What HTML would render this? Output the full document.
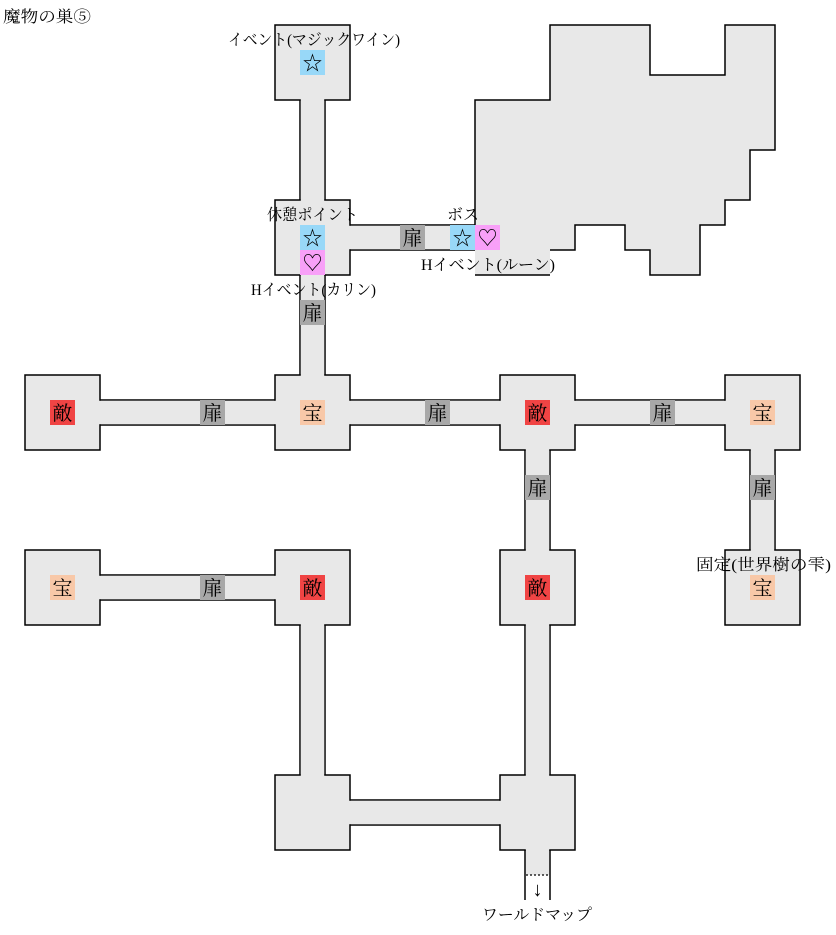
<!DOCTYPE html>
<html><head><meta charset="utf-8"><style>
html,body{margin:0;padding:0;background:#fff;}
svg{display:block;}
text{font-family:"Liberation Serif","Noto Serif CJK SC",serif;fill:#000;}
.ic{font-size:20px;}
.lb{font-size:16px;}
</style></head><body>
<svg width="836" height="935" viewBox="0 0 836 935" xmlns="http://www.w3.org/2000/svg">
<g fill="#e8e8e8" stroke="#000" stroke-width="1.5">
<rect x="300" y="100" width="25" height="100"/>
<rect x="350" y="225" width="125" height="25"/>
<rect x="300" y="275" width="25" height="100"/>
<rect x="100" y="400" width="175" height="25"/>
<rect x="350" y="400" width="150" height="25"/>
<rect x="575" y="400" width="150" height="25"/>
<rect x="525" y="450" width="25" height="100"/>
<rect x="750" y="450" width="25" height="100"/>
<rect x="100" y="575" width="175" height="25"/>
<rect x="300" y="625" width="25" height="150"/>
<rect x="525" y="625" width="25" height="150"/>
<rect x="350" y="800" width="150" height="25"/>
<rect x="275" y="25" width="75" height="75"/>
<rect x="275" y="200" width="75" height="75"/>
<rect x="25" y="375" width="75" height="75"/>
<rect x="275" y="375" width="75" height="75"/>
<rect x="500" y="375" width="75" height="75"/>
<rect x="725" y="375" width="75" height="75"/>
<rect x="25" y="550" width="75" height="75"/>
<rect x="275" y="550" width="75" height="75"/>
<rect x="500" y="550" width="75" height="75"/>
<rect x="725" y="550" width="75" height="75"/>
<rect x="275" y="775" width="75" height="75"/>
<rect x="500" y="775" width="75" height="75"/>
</g>
<polygon fill="#e8e8e8" points="475,100 550,100 550,25 650,25 650,75 725,75 725,25 775,25 775,150 750,150 750,200 725,200 725,225 700,225 700,275 650,275 650,250 625,250 625,225 575,225 575,250 550,250 550,275 475,275"/>
<path fill="none" stroke="#000" stroke-width="1.5" d="M475,225 V100 H550 V25 H650 V75 H725 V25 H775 V150 H750 V200 H725 V225 H700 V275 H650 V250 H625 V225 H575 V250 H550 M475,275 H550"/>
<g fill="#e8e8e8">
<rect x="300.8" y="98" width="23.4" height="104"/>
<rect x="348" y="225.8" width="129" height="23.4"/>
<rect x="300.8" y="273" width="23.4" height="104"/>
<rect x="98" y="400.8" width="179" height="23.4"/>
<rect x="348" y="400.8" width="154" height="23.4"/>
<rect x="573" y="400.8" width="154" height="23.4"/>
<rect x="525.8" y="448" width="23.4" height="104"/>
<rect x="750.8" y="448" width="23.4" height="104"/>
<rect x="98" y="575.8" width="179" height="23.4"/>
<rect x="300.8" y="623" width="23.4" height="154"/>
<rect x="525.8" y="623" width="23.4" height="154"/>
<rect x="348" y="800.8" width="154" height="23.4"/>
<rect x="525.8" y="848" width="23.4" height="27"/>
<rect x="475.8" y="249" width="74" height="25"/>
</g>
<path fill="none" stroke="#000" stroke-width="1.5" d="M525,850 V900 M550,850 V900"/>
<line x1="526" y1="875" x2="549" y2="875" stroke="#000" stroke-width="1.2" stroke-dasharray="2,2"/>
<text class="ic" x="537.5" y="896" text-anchor="middle">↓</text>
<g>
<rect x="300" y="50" width="25" height="25" fill="#98d8f8"/>
<rect x="300" y="225" width="25" height="25" fill="#98d8f8"/>
<rect x="300" y="250" width="25" height="25" fill="#f8a0f8"/>
<rect x="400" y="225" width="25" height="25" fill="#a8a8a8"/>
<rect x="450" y="225" width="25" height="25" fill="#98d8f8"/>
<rect x="475" y="225" width="25" height="25" fill="#f8a0f8"/>
<rect x="300" y="300" width="25" height="25" fill="#a8a8a8"/>
<rect x="50" y="400" width="25" height="25" fill="#f04444"/>
<rect x="200" y="400" width="25" height="25" fill="#a8a8a8"/>
<rect x="300" y="400" width="25" height="25" fill="#f8c8a8"/>
<rect x="425" y="400" width="25" height="25" fill="#a8a8a8"/>
<rect x="525" y="400" width="25" height="25" fill="#f04444"/>
<rect x="650" y="400" width="25" height="25" fill="#a8a8a8"/>
<rect x="750" y="400" width="25" height="25" fill="#f8c8a8"/>
<rect x="525" y="475" width="25" height="25" fill="#a8a8a8"/>
<rect x="750" y="475" width="25" height="25" fill="#a8a8a8"/>
<rect x="50" y="575" width="25" height="25" fill="#f8c8a8"/>
<rect x="200" y="575" width="25" height="25" fill="#a8a8a8"/>
<rect x="300" y="575" width="25" height="25" fill="#f04444"/>
<rect x="525" y="575" width="25" height="25" fill="#f04444"/>
<rect x="750" y="575" width="25" height="25" fill="#f8c8a8"/>
</g>
<g class="ic" text-anchor="middle">
<text x="312.5" y="70">☆</text>
<text x="312.5" y="245">☆</text>
<text x="312.5" y="270">♡</text>
<text x="412.5" y="245">扉</text>
<text x="462.5" y="245">☆</text>
<text x="487.5" y="245">♡</text>
<text x="312.5" y="320">扉</text>
<text x="62.5" y="420">敵</text>
<text x="212.5" y="420">扉</text>
<text x="312.5" y="420">宝</text>
<text x="437.5" y="420">扉</text>
<text x="537.5" y="420">敵</text>
<text x="662.5" y="420">扉</text>
<text x="762.5" y="420">宝</text>
<text x="537.5" y="495">扉</text>
<text x="762.5" y="495">扉</text>
<text x="62.5" y="595">宝</text>
<text x="212.5" y="595">扉</text>
<text x="312.5" y="595">敵</text>
<text x="537.5" y="595">敵</text>
<text x="762.5" y="595">宝</text>
</g>
<g class="lb">
<text x="3" y="22" textLength="88" lengthAdjust="spacingAndGlyphs">魔物の巣⑤</text>
<text x="228" y="45" textLength="172" lengthAdjust="spacingAndGlyphs">イベント(マジックワイン)</text>
<text x="267" y="220" textLength="91" lengthAdjust="spacingAndGlyphs">休憩ポイント</text>
<text x="447" y="220" textLength="32" lengthAdjust="spacingAndGlyphs">ボス</text>
<text x="421" y="270" textLength="134" lengthAdjust="spacingAndGlyphs">Hイベント(ルーン)</text>
<text x="251" y="295" textLength="125" lengthAdjust="spacingAndGlyphs">Hイベント(カリン)</text>
<text x="696" y="570" textLength="135" lengthAdjust="spacingAndGlyphs">固定(世界樹の雫)</text>
<text x="482" y="920" textLength="110" lengthAdjust="spacingAndGlyphs">ワールドマップ</text>
</g>
</svg>
</body></html>
